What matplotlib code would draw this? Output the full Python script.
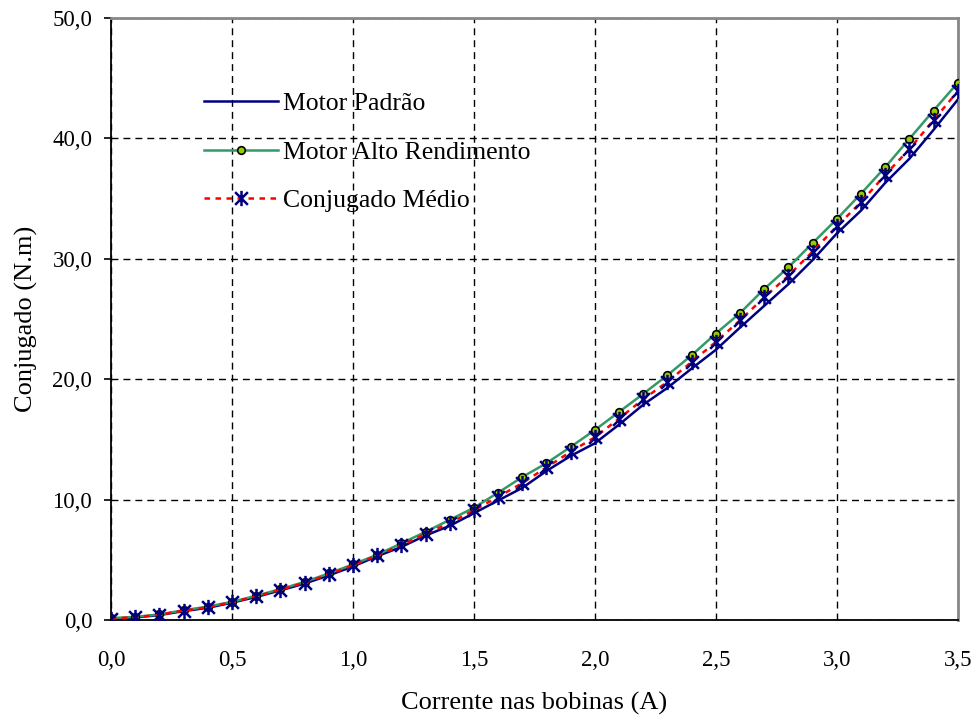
import numpy as np
import matplotlib
matplotlib.use('Agg')
from matplotlib import pyplot as plt
from matplotlib.path import Path
from matplotlib.ticker import FuncFormatter, MultipleLocator

# Dados (corrente em A, conjugado em N.m)
corrente = [0.0, 0.1, 0.2, 0.3, 0.4, 0.5, 0.6, 0.7, 0.8, 0.9,
            1.0, 1.1, 1.2, 1.3, 1.4, 1.5, 1.6, 1.7, 1.8, 1.9,
            2.0, 2.1, 2.2, 2.3, 2.4, 2.5, 2.6, 2.7, 2.8, 2.9,
            3.0, 3.1, 3.2, 3.3, 3.4, 3.5]

motor_padrao = [0.1, 0.25, 0.45, 0.78, 1.05, 1.48, 1.95, 2.5, 3.06, 3.74,
                4.48, 5.33, 6.1, 7.05, 7.85, 8.9, 9.95, 11.0, 12.4, 13.65,
                14.7, 16.25, 17.9, 19.3, 20.9, 22.45, 24.3, 26.1, 27.9, 29.9,
                32.1, 34.0, 36.3, 38.3, 40.7, 43.2]

motor_alto = [0.2, 0.3, 0.5, 0.85, 1.15, 1.55, 2.05, 2.6, 3.2, 3.9,
              4.65, 5.45, 6.4, 7.35, 8.35, 9.35, 10.6, 11.9, 13.05, 14.4,
              15.8, 17.3, 18.8, 20.35, 22.0, 23.8, 25.5, 27.5, 29.3, 31.3,
              33.3, 35.4, 37.6, 39.95, 42.3, 44.6]

conj_medio = [0.15, 0.28, 0.47, 0.82, 1.1, 1.52, 2.0, 2.55, 3.13, 3.82,
              4.57, 5.4, 6.23, 7.2, 8.08, 9.14, 10.25, 11.4, 12.7, 14.0,
              15.2, 16.75, 18.35, 19.8, 21.45, 23.1, 24.9, 26.8, 28.6, 30.6,
              32.7, 34.7, 36.96, 39.1, 41.5, 43.9]

plt.rcParams['font.family'] = ['Liberation Serif', 'DejaVu Serif']

# marcador "estrela" do Excel : um X com uma barra vertical
estrela = Path([(-1, -1), (1, 1), (-1, 1), (1, -1), (0, -1.2), (0, 1.2)],
               [Path.MOVETO, Path.LINETO, Path.MOVETO, Path.LINETO, Path.MOVETO, Path.LINETO])

fig = plt.figure(figsize=(9.78, 7.2), dpi=100)
ax = fig.add_axes([0.1135, 0.1382, 0.9793 - 0.1135, 0.9754 - 0.1382])

ax.plot(corrente, motor_padrao, color='#000080', lw=1.8, label='Motor Padrão', zorder=3)
ax.plot(corrente, motor_alto, color='#339966', lw=1.8, marker='o', markersize=5.5,
        markerfacecolor='#99CC00', markeredgecolor='black', markeredgewidth=1.2,
        label='Motor Alto Rendimento', zorder=4)
ax.plot(corrente, conj_medio, color='red', lw=1.8, linestyle=(0, (2.2, 2.2)),
        marker=estrela, markersize=11, markeredgecolor='#000080', markeredgewidth=1.8,
        label='Conjugado Médio', zorder=5)

ax.set_xlim(0, 3.5)
ax.set_ylim(0, 50)
ax.xaxis.set_major_locator(MultipleLocator(0.5))
ax.yaxis.set_major_locator(MultipleLocator(10))
virgula = FuncFormatter(lambda v, pos: f'{v:.1f}'.replace('.', ','))
ax.xaxis.set_major_formatter(virgula)
ax.yaxis.set_major_formatter(virgula)

ax.grid(True, color='black', lw=1, linestyle=(0, (5, 3.6)))
ax.set_axisbelow(True)

ax.tick_params(axis='x', length=0, pad=21, labelsize=16.5)
ax.tick_params(axis='y', length=5, width=1.2, direction='out', pad=8.5, labelsize=16.5)

for s in ['left', 'bottom']:
    ax.spines[s].set_color('black')
    ax.spines[s].set_linewidth(1.3)
for s in ['top', 'right']:
    ax.spines[s].set_color('#888888')
    ax.spines[s].set_linewidth(2)

ax.set_xlabel('Corrente nas bobinas (A)', fontsize=19, labelpad=15)
ax.set_ylabel('Conjugado (N.m)', fontsize=19, labelpad=10)

ax.legend(loc='upper left', bbox_to_anchor=(0.082, 0.915), frameon=False, fontsize=18.5,
          handlelength=2.9, handletextpad=0.2, labelspacing=1.0)

plt.savefig('out.png', dpi=100)
